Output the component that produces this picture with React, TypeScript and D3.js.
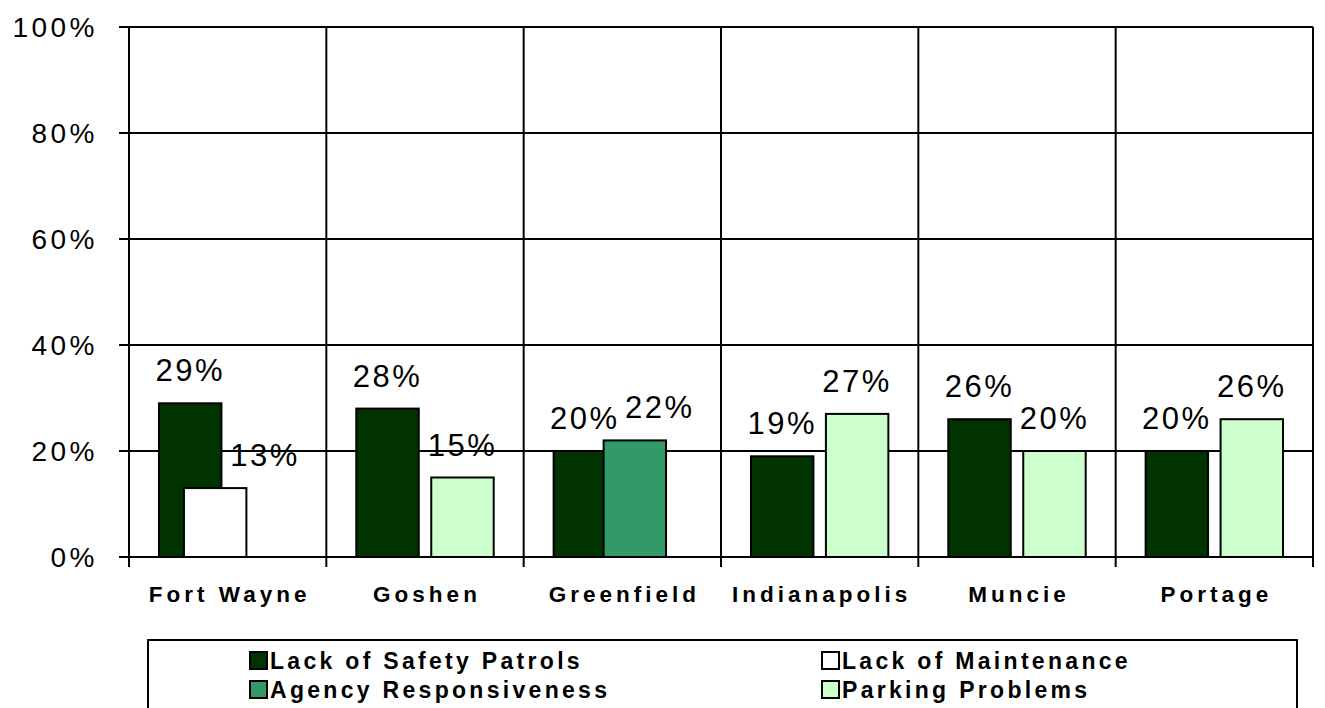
import React, { useEffect, useRef } from 'react';
import * as d3 from 'd3';

// Chart data
const categories = ['Fort Wayne', 'Goshen', 'Greenfield', 'Indianapolis', 'Muncie', 'Portage'];
const seriesNames = ['Lack of Safety Patrols', 'Lack of Maintenance', 'Agency Responsiveness', 'Parking Problems'];
const safetyPatrols = [29, 28, 20, 19, 26, 20];
const maintenance = [13, null, null, null, null, null];
const agencyResponsiveness = [null, null, 22, null, null, null];
const parkingProblems = [null, 15, null, 27, 20, 26];
const yTicks = [0, 20, 40, 60, 80, 100];

const seriesColors = ['#003300', '#ffffff', '#339966', '#ccffcc'];

const App = () => {
    const ref = useRef<SVGSVGElement>(null);

    useEffect(() => {
        document.body.style.margin = '0';
        const width = 1325;
        const height = 708;
        const margin = { top: 27, left: 129, right: 12, bottom: 151 };
        const font = '"Liberation Sans", Arial, sans-serif';

        const svg = d3.select(ref.current);
        svg.selectAll('*').remove();
        svg.attr('width', width).attr('height', height);

        const seriesValues = [safetyPatrols, maintenance, agencyResponsiveness, parkingProblems];

        // Scales
        const x = d3.scaleBand<string>()
            .domain(categories)
            .range([margin.left, width - margin.right])
            .padding(0);

        const y = d3.scaleLinear()
            .domain([0, 100])
            .range([height - margin.bottom, margin.top]);

        // Excel style clustered columns with overlap
        const n = seriesNames.length;
        const overlap = 0.6;
        const gapWidth = 0.96;
        const barW = x.bandwidth() / (n - (n - 1) * overlap + gapWidth);
        const clusterW = barW * (n - (n - 1) * overlap);
        const clusterStart = (x.bandwidth() - clusterW) / 2;
        const barX = (cat: string, s: number) =>
            (x(cat) as number) + clusterStart + s * barW * (1 - overlap);

        // Gridlines (horizontal)
        svg.append('g')
            .selectAll('line')
            .data(yTicks.slice(1))
            .enter()
            .append('line')
            .attr('x1', margin.left)
            .attr('x2', width - margin.right)
            .attr('y1', (d) => y(d))
            .attr('y2', (d) => y(d))
            .attr('stroke', '#000')
            .attr('stroke-width', 2);

        // Gridlines (vertical, between categories)
        const boundaries = categories.map((c) => (x(c) as number) + x.bandwidth());
        svg.append('g')
            .selectAll('line')
            .data(boundaries)
            .enter()
            .append('line')
            .attr('x1', (d) => d)
            .attr('x2', (d) => d)
            .attr('y1', y(100))
            .attr('y2', y(0) + 10)
            .attr('stroke', '#000')
            .attr('stroke-width', 2);

        // Bars
        const bars = svg.append('g');
        seriesValues.forEach((vals, s) => {
            bars.selectAll(null)
                .data(categories.map((c, i) => ({ c, v: vals[i] })).filter((d) => d.v != null))
                .enter()
                .append('rect')
                .attr('x', (d) => barX(d.c, s))
                .attr('y', (d) => y(d.v as number))
                .attr('width', barW)
                .attr('height', (d) => y(0) - y(d.v as number))
                .attr('fill', seriesColors[s])
                .attr('stroke', '#000')
                .attr('stroke-width', 2);
        });

        // Value labels
        const labels = svg.append('g')
            .attr('font-family', font)
            .attr('font-size', 31)
            .attr('letter-spacing', 2.5)
            .attr('text-anchor', 'middle');
        seriesValues.forEach((vals, s) => {
            const slot = s === 0 ? 0 : n - 1;
            labels.selectAll(null)
                .data(categories.map((c, i) => ({ c, v: vals[i] })).filter((d) => d.v != null))
                .enter()
                .append('text')
                .attr('x', (d) => barX(d.c, slot) + barW / 2)
                .attr('y', (d) => y(d.v as number) - 22)
                .text((d) => `${d.v}%`);
        });

        // Axes
        svg.append('line')
            .attr('x1', margin.left).attr('x2', margin.left)
            .attr('y1', y(100)).attr('y2', y(0))
            .attr('stroke', '#000').attr('stroke-width', 2);
        svg.append('line')
            .attr('x1', margin.left - 10).attr('x2', width - margin.right)
            .attr('y1', y(0)).attr('y2', y(0))
            .attr('stroke', '#000').attr('stroke-width', 2);

        // Y ticks and labels
        const yAxis = svg.append('g');
        yAxis.selectAll('line')
            .data(yTicks)
            .enter()
            .append('line')
            .attr('x1', margin.left - 10)
            .attr('x2', margin.left)
            .attr('y1', (d) => y(d))
            .attr('y2', (d) => y(d))
            .attr('stroke', '#000')
            .attr('stroke-width', 2);
        yAxis.selectAll('text')
            .data(yTicks)
            .enter()
            .append('text')
            .attr('x', 98)
            .attr('y', (d) => y(d) + 10)
            .attr('text-anchor', 'end')
            .attr('font-family', font)
            .attr('font-size', 28)
            .attr('letter-spacing', 3.5)
            .text((d) => `${d}%`);

        // X ticks and category labels
        svg.append('line')
            .attr('x1', margin.left).attr('x2', margin.left)
            .attr('y1', y(0)).attr('y2', y(0) + 10)
            .attr('stroke', '#000').attr('stroke-width', 2);
        svg.append('g')
            .selectAll('text')
            .data(categories)
            .enter()
            .append('text')
            .attr('x', (d) => (x(d) as number) + x.bandwidth() / 2 + 2)
            .attr('y', 602)
            .attr('text-anchor', 'middle')
            .attr('font-family', font)
            .attr('font-weight', 'bold')
            .attr('font-size', 22.5)
            .attr('letter-spacing', 4)
            .text((d) => d);

        // Legend
        const legend = svg.append('g');
        legend.append('rect')
            .attr('x', 148)
            .attr('y', 640)
            .attr('width', 1149)
            .attr('height', 90)
            .attr('fill', '#fff')
            .attr('stroke', '#000')
            .attr('stroke-width', 2);
        const colX = [250, 822];
        const rowY = [669, 698];
        const items = legend.selectAll('g.item')
            .data(seriesNames)
            .enter()
            .append('g')
            .attr('class', 'item')
            .attr('transform', (_, i) => `translate(${colX[i % 2]}, ${rowY[Math.floor(i / 2)]})`);
        items.append('rect')
            .attr('x', 0)
            .attr('y', -17)
            .attr('width', 17)
            .attr('height', 17)
            .attr('fill', (_, i) => seriesColors[i])
            .attr('stroke', '#000')
            .attr('stroke-width', 2);
        items.append('text')
            .attr('x', 20)
            .attr('y', 0)
            .attr('font-family', font)
            .attr('font-weight', 'bold')
            .attr('font-size', 23)
            .attr('letter-spacing', 3.3)
            .text((d) => d);
    }, []);

    return <svg ref={ref} style={{ display: 'block' }} />;
};

export default App;
